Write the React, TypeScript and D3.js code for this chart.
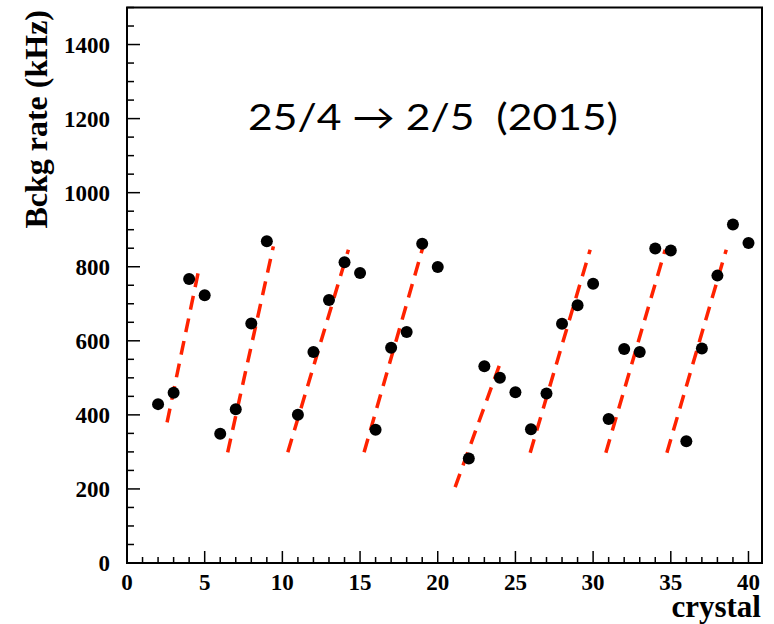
import React from "react";
import * as d3 from "d3";

const crystals = [2, 3, 4, 5, 6, 7, 8, 9, 11, 12, 13, 14, 15, 16, 17, 18, 19, 20, 22, 23, 24, 25, 26, 27, 28, 29, 30, 31, 32, 33, 34, 35, 36, 37, 38, 39, 40];
const rates = [429, 460, 767, 723, 349, 415, 647, 869, 400, 570, 710, 812, 783, 360, 581, 624, 862, 799, 282, 531, 500, 461, 361, 458, 646, 696, 754, 389, 578, 570, 849, 844, 329, 579, 776, 914, 864];

// fit lines in data units
const fitStartX = [2.58, 6.48, 10.35, 15.26, 21.12, 25.95, 30.82, 34.75];
const fitStartY = [380, 299, 299, 299, 205, 298, 298, 298];
const fitEndX = [4.59, 9.42, 14.25, 19.08, 23.97, 29.81, 34.64, 38.57];
const fitEndY = [786, 855, 846, 858, 534, 846, 846, 846];

const xMajor = [0, 5, 10, 15, 20, 25, 30, 35, 40];
const yMajor = [0, 200, 400, 600, 800, 1000, 1200, 1400];

const title = "25/4 \u2192 2/5  (2015)";
const yTitle = "Bckg rate (kHz)";
const xTitle = "crystal";

export default function App() {
  const W = 774, H = 624;
  const left = 127, right = 762, top = 7.5, bottom = 563;
  const x = d3.scaleLinear().domain([0, 40.87]).range([left, right]);
  const y = d3.scaleLinear().domain([0, 1500]).range([bottom, top]);

  const xMinor = d3.range(0, 41, 1);
  const yMinor = d3.range(0, 1501, 50);
  const serif = "'Liberation Serif', 'Times New Roman', serif";

  return (
    <svg width={W} height={H} style={{ position: "absolute", left: 0, top: 0, background: "#fff" }}>
      <rect x={0} y={0} width={W} height={H} fill="#fff" />
      <rect x={left} y={top} width={right - left} height={bottom - top} fill="none" stroke="#000" strokeWidth={2} />
      {xMinor.map((v) => (
        <line key={"xm" + v} x1={x(v)} x2={x(v)} y1={bottom} y2={bottom - (v % 5 === 0 ? 12 : 6)} stroke="#000" strokeWidth={1.5} />
      ))}
      {yMinor.map((v) => (
        <line key={"ym" + v} x1={left} x2={left + (v % 200 === 0 ? 13 : 7)} y1={y(v)} y2={y(v)} stroke="#000" strokeWidth={1.5} />
      ))}
      {xMajor.map((v) => (
        <text key={"xl" + v} x={x(v)} y={590} textAnchor="middle" fontFamily={serif} fontWeight="bold" fontSize={23}>
          {v}
        </text>
      ))}
      {yMajor.map((v) => (
        <text key={"yl" + v} x={110} y={y(v) + 8} textAnchor="end" fontFamily={serif} fontWeight="bold" fontSize={23}>
          {v}
        </text>
      ))}
      <text x={761} y={617} textAnchor="end" fontFamily={serif} fontWeight="bold" fontSize={31}>
        {xTitle}
      </text>
      <text transform="translate(47,10) rotate(-90)" textAnchor="end" fontFamily={serif} fontWeight="bold" fontSize={32}>
        {yTitle}
      </text>
      {fitStartX.map((sx, i) => (
        <line
          key={"f" + i}
          x1={x(sx)}
          y1={y(fitStartY[i])}
          x2={x(fitEndX[i])}
          y2={y(fitEndY[i])}
          stroke="#ff2200"
          strokeWidth={3.5}
          strokeDasharray="14 9"
        />
      ))}
      {crystals.map((c, i) => (
        <circle key={"p" + c} cx={x(c)} cy={y(rates[i])} r={6} fill="#000" />
      ))}
      <text
        x={248}
        y={130}
        fontFamily="Lato, 'Open Sans', sans-serif"
        fontSize={36}
        textLength={370}
        lengthAdjust="spacingAndGlyphs"
        xmlSpace="preserve"
        style={{ whiteSpace: "pre" }}
      >
        {title}
      </text>
    </svg>
  );
}
